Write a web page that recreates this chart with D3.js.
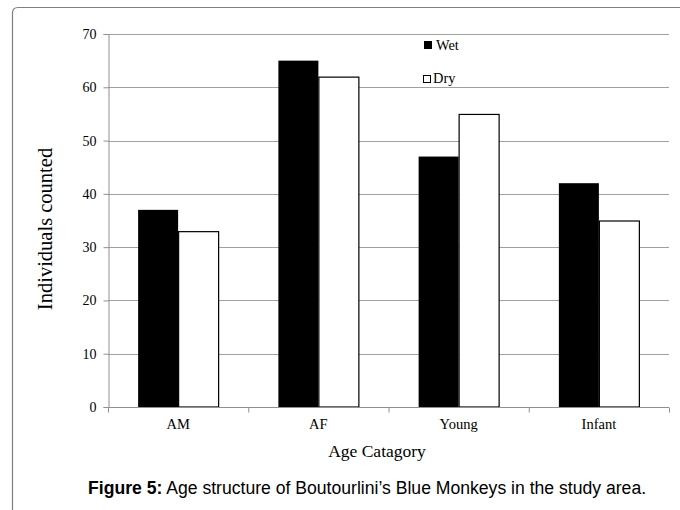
<!DOCTYPE html>
<html><head><meta charset="utf-8">
<script src="https://cdn.jsdelivr.net/npm/d3@7/dist/d3.min.js"></script>
<style>body{margin:0;background:#fff;}svg{display:block;}</style>
</head><body>
<script>
const categories = ["AM", "AF", "Young", "Infant"];
const wetValues = [37, 65, 47, 42];
const dryValues = [33, 62, 55, 35];
const seriesNames = ["Wet", "Dry"];
const yTicks = [0, 10, 20, 30, 40, 50, 60, 70];

(function () {
const W = 680, H = 510;
const svg = d3.select("body").append("svg").attr("width", W).attr("height", H);

// outer rounded frame
svg.append("path")
  .attr("d", "M12.5,520 L12.5,13 Q12.5,7.5 18,7.5 L700,7.5")
  .attr("fill", "none").attr("stroke", "#808080").attr("stroke-width", 1.2);

const pL = 108, pR = 669, pT = 34, pB = 407;
const x = d3.scaleBand().domain(categories).range([pL, pR]);
const y = d3.scaleLinear().domain([0, 70]).range([pB, pT]);

const serif = "'Liberation Serif','Times New Roman',serif";

// gridlines
svg.append("g").selectAll("line").data(yTicks.filter(d => d > 0)).join("line")
  .attr("x1", pL).attr("x2", pR)
  .attr("y1", d => Math.round(y(d)) + 0.5).attr("y2", d => Math.round(y(d)) + 0.5)
  .attr("stroke", "#a0a0a0").attr("stroke-width", 1.2);

// y axis
const yAxis = svg.append("g").attr("transform", `translate(${pL + 0.5},0)`)
  .call(d3.axisLeft(y).tickValues(yTicks).tickSize(5).tickPadding(7));
yAxis.attr("font-family", serif).attr("font-size", 14);
yAxis.select(".domain").attr("stroke", "#909090");
yAxis.selectAll(".tick line").attr("stroke", "#909090");
yAxis.selectAll("text").attr("fill", "#000");

// bars
const half = x.bandwidth() / 2;
const bw = 40;
svg.append("g").selectAll("rect").data(categories).join("rect")
  .attr("x", d => x(d) + half - bw)
  .attr("y", (d, i) => y(wetValues[i]))
  .attr("width", bw)
  .attr("height", (d, i) => y(0) - y(wetValues[i]))
  .attr("fill", "#000");
svg.append("g").selectAll("rect").data(categories).join("rect")
  .attr("x", d => x(d) + half + 0.5)
  .attr("y", (d, i) => y(dryValues[i]) + 0.5)
  .attr("width", bw)
  .attr("height", (d, i) => y(0) - y(dryValues[i]) - 0.5)
  .attr("fill", "#fff").attr("stroke", "#000").attr("stroke-width", 1.2);

// x axis
const xAxis = svg.append("g").attr("transform", `translate(0,${pB + 0.5})`);
xAxis.append("line").attr("x1", pL).attr("x2", pR).attr("stroke", "#909090").attr("stroke-width", 1.2);
const bounds = [pL].concat(categories.map(c => x(c) + x.bandwidth()));
xAxis.selectAll("line.t").data(bounds).join("line").attr("class", "t")
  .attr("x1", d => d + 0.5).attr("x2", d => d + 0.5).attr("y1", 0).attr("y2", 5)
  .attr("stroke", "#909090");
xAxis.selectAll("text").data(categories).join("text")
  .attr("x", d => x(d) + half).attr("y", 21)
  .attr("text-anchor", "middle").attr("font-family", serif).attr("font-size", 14.5)
  .text(d => d);

// axis titles
svg.append("text").attr("x", 377).attr("y", 457).attr("text-anchor", "middle")
  .attr("font-family", serif).attr("font-size", 17.5).text("Age Catagory");
svg.append("text").attr("transform", "translate(52,229) rotate(-90)")
  .attr("text-anchor", "middle").attr("font-family", serif).attr("font-size", 20.5)
  .text("Individuals counted");

// legend
const legend = svg.append("g");
legend.append("rect").attr("x", 424).attr("y", 41).attr("width", 8).attr("height", 8).attr("fill", "#000");
legend.append("rect").attr("x", 423.5).attr("y", 75.5).attr("width", 7).attr("height", 7)
  .attr("fill", "#fff").attr("stroke", "#000").attr("stroke-width", 1);
const lx = [436, 433], lyb = [50, 83];
seriesNames.forEach((n, i) => {
  legend.append("text").attr("x", lx[i]).attr("y", lyb[i])
    .attr("font-family", serif).attr("font-size", 14.4).text(n);
});

// caption
const cap = svg.append("text").attr("x", 88).attr("y", 494)
  .attr("font-family", "'Liberation Sans',Arial,sans-serif").attr("font-size", 17.6);
cap.append("tspan").attr("font-weight", "bold").text("Figure 5:");
cap.append("tspan").text(" Age structure of Boutourlini\u2019s Blue Monkeys in the study area.");
})();
</script>
</body></html>
